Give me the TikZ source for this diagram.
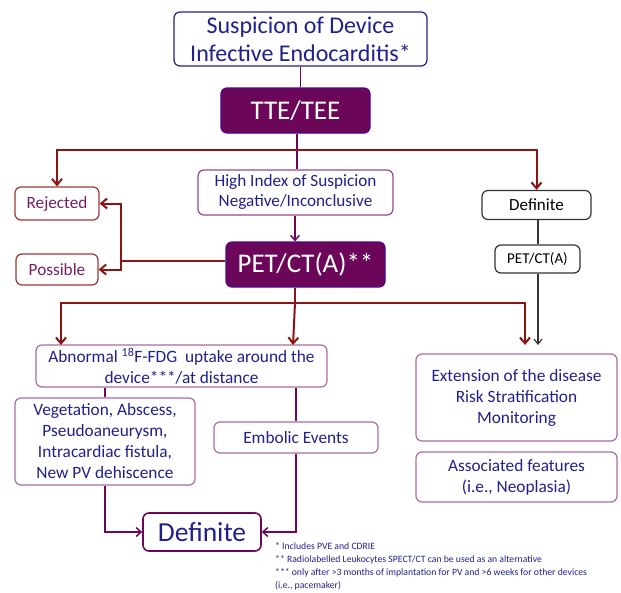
\documentclass[tikz,border=0pt]{standalone}
\usepackage{fontspec}
\setmainfont{Carlito}
\usetikzlibrary{arrows.meta}
\definecolor{navy}{RGB}{32,32,140}
\definecolor{plum}{RGB}{108,6,88}
\definecolor{mauve}{RGB}{150,70,140}
\definecolor{dred}{RGB}{140,20,20}
\definecolor{rtext}{RGB}{120,30,100}
\begin{document}
\begin{tikzpicture}[x=1pt,y=-1pt,
  box/.style={draw, rounded corners=6pt, line width=1.2pt, align=center, inner sep=2pt},
  fillbox/.style={box, fill=plum, draw=plum!70!blue, text=white},
  redline/.style={draw=dred, line width=2pt},
  redarrow/.style={redline, -{Straight Barb[length=6pt,width=10pt,line width=2pt]}},
  plink/.style={draw=plum, line width=1.5pt},
  parrow/.style={plink, -{Straight Barb[length=5pt,width=9pt,line width=1.5pt]}},
  karrow/.style={draw=black!80, line width=1.2pt, -{Straight Barb[length=5pt,width=8pt,line width=1.2pt]}}]
\useasboundingbox (0,0) rectangle (621,592);

% nodes
\node[box, draw=navy, text=navy, minimum width=253pt, minimum height=54pt, font=\fontsize{24}{28}\selectfont] (top) at (300.5,39) {Suspicion of Device\\Infective Endocarditis*};
\node[fillbox, minimum width=149pt, minimum height=45pt, font=\fontsize{27}{30}\selectfont] (tte) at (295.5,110.5) {TTE/TEE};
\node[box, draw=mauve, text=navy, minimum width=195pt, minimum height=45pt, font=\fontsize{17.2}{20}\selectfont] (high) at (295.5,192.5) {High Index of Suspicion\\Negative/Inconclusive};
\node[box, draw=dred!85, text=rtext, minimum width=84pt, minimum height=33pt, font=\fontsize{17.2}{20}\selectfont] (rej) at (57,203.5) {Rejected};
\node[box, draw=dred!85, text=rtext, minimum width=82pt, minimum height=31pt, font=\fontsize{17.2}{20}\selectfont] (pos) at (57,269.5) {Possible};
\node[box, draw=black!80, text=black, minimum width=109pt, minimum height=29pt, font=\fontsize{17}{20}\selectfont] (defR) at (536.5,205) {Definite};
\node[box, draw=black!80, text=black, minimum width=85pt, minimum height=28pt, font=\fontsize{15}{18}\selectfont] (petS) at (537.5,259) {PET/CT(A)};
\node[fillbox, minimum width=159pt, minimum height=45pt, font=\fontsize{27}{30}\selectfont] (pet) at (305.5,264.5) {PET/CT(A)**};
\node[box, draw=mauve!80, text=navy, minimum width=291pt, minimum height=42pt, font=\fontsize{17.3}{21}\selectfont] (abn) at (181.5,366) {Abnormal \textsuperscript{18}F-FDG\ \ uptake around the\\device***/at distance};
\node[box, draw=mauve!80, text=navy, minimum width=201pt, minimum height=87pt, font=\fontsize{17.3}{21}\selectfont] (ext) at (516.5,397.5) {Extension of the disease\\Risk Stratification\\Monitoring};
\node[box, draw=mauve!80, text=navy, minimum width=201pt, minimum height=50pt, font=\fontsize{17.3}{21}\selectfont] (asc) at (516.5,477) {Associated features\\(i.e., Neoplasia)};
\node[box, draw=mauve!80, text=navy, minimum width=180pt, minimum height=87pt, font=\fontsize{17.3}{21}\selectfont] (veg) at (105,441.5) {Vegetation, Abscess,\\Pseudoaneurysm,\\Intracardiac fistula,\\New PV dehiscence};
\node[box, draw=mauve!80, text=navy, minimum width=164pt, minimum height=31pt, font=\fontsize{17.3}{21}\selectfont] (emb) at (296,437.5) {Embolic Events};
\node[box, draw=plum, text=navy, line width=1.6pt, minimum width=118pt, minimum height=38pt, font=\fontsize{27.5}{30}\selectfont] (defB) at (202,532) {Definite};
\node[anchor=north west, text=navy, align=left, inner sep=0pt, font=\fontsize{9.7}{13}\selectfont] (notes) at (275,542) {* Includes PVE and CDRIE\\** Radiolabelled Leukocytes SPECT/CT can be used as an alternative\\*** only after >3 months of implantation for PV and >6 weeks for other devices\\(i.e., pacemaker)};

% coordinates
\coordinate (s1) at (297,150);
\coordinate (j) at (121,261);
\coordinate (s2) at (295,303);
\coordinate (a1) at (61,345);
\coordinate (a2) at (293,345);
\coordinate (a3) at (525,345);
\coordinate (e2) at (538,345);

% connectors
\draw[plink] (top.south) -- (top.south |- tte.north);
\draw[plink] (tte.south -| s1) -- (s1);
\draw[plink] (s1) -- (s1 |- high.north);
\draw[redarrow] (s1) -| (rej.north);
\draw[redarrow] (s1) -| (defR.north);
\draw[parrow] (high.south -| 295,0) -- (pet.north -| 295,0);
\draw[redline] (pet.west |- j) -- (j);
\draw[redarrow] (j) |- (rej.east);
\draw[redarrow] (j) |- (pos.east);
\draw[black!80, line width=1.2pt] (defR.south -| e2) -- (petS.north -| e2);
\draw[karrow] (petS.south -| e2) -- (e2);
\draw[redline] (pet.south -| s2) -- (s2);
\draw[redarrow] (s2) -| (a1);
\draw[redarrow] (s2) -| (a3);
\draw[redarrow] (s2) -- (a2);
\draw[plink] (abn.south -| 105,0) -- (veg.north -| 105,0);
\draw[plink] (abn.south -| emb.north) -- (emb.north);
\draw[parrow] (veg.south) |- (defB.west);
\draw[parrow] (emb.south) |- (defB.east);
\end{tikzpicture}
\end{document}
